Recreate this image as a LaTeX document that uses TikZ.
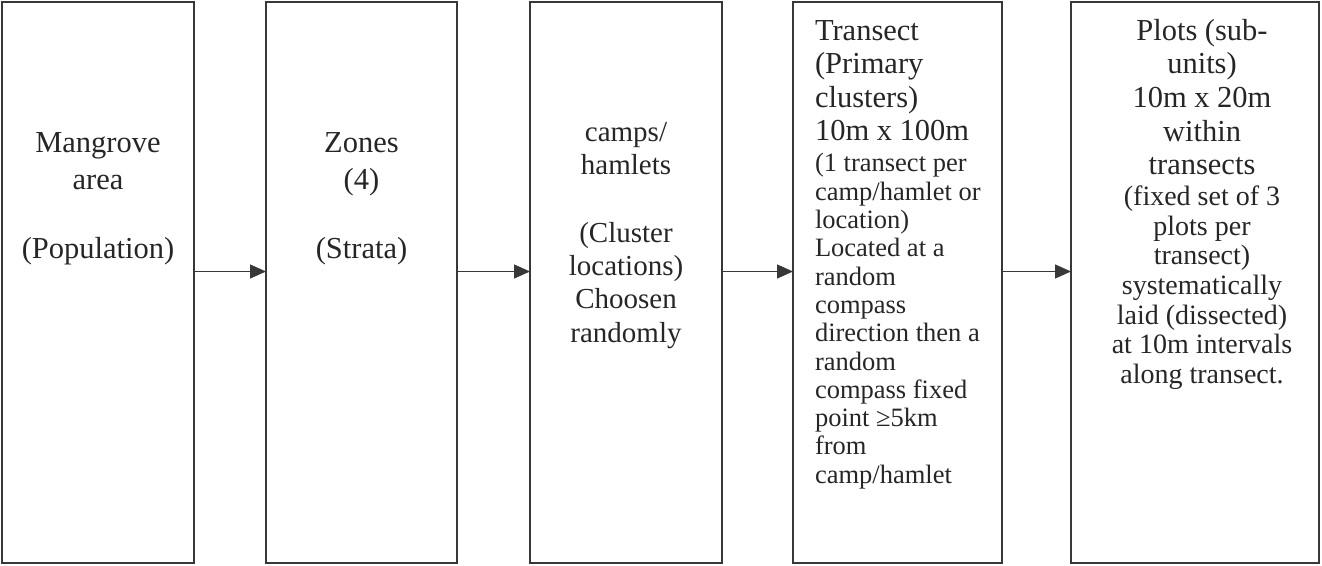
\documentclass[tikz,border=0pt]{standalone}
\usepackage{fontspec}
\setmainfont{Liberation Serif}
\usetikzlibrary{arrows.meta}
\usetikzlibrary{positioning}
\definecolor{boxgray}{HTML}{383838}
\definecolor{textgray}{HTML}{262626}
\newcommand{\bigtext}{\fontsize{30.5}{37}\selectfont}
\newcommand{\midtext}{\fontsize{29}{33.3}\selectfont}
\newcommand{\smalltext}{\fontsize{26.5}{28.3}\selectfont}
\newcommand{\drawStage}[3]{
   	\node[stagebox, minimum width=#3pt] (#1) at (#2,282.5) {};
}

\begin{document}
\begin{tikzpicture}[x=1pt, y=-1pt,
    stagebox/.style={draw=boxgray, line width=1.3pt, minimum height=561pt, inner sep=0pt, outer sep=0pt},
    flow/.style={draw=boxgray, line width=1.3pt, -{Triangle[length=16pt,width=14pt]}},
    stagetext/.style={text=textgray, inner sep=0pt, outer sep=0pt}]
%%%%%%%%%%%%%%%%%%
\useasboundingbox (0,0) rectangle (1322,565);

%Boxes
\drawStage{b1}{98}{192}
\drawStage{b2}{361.5}{191}
\drawStage{b3}{626}{192}
\drawStage{b4}{897.5}{209}
\drawStage{b5}{1195}{248}

%Arrows between boxes
\foreach \a/\b in {b1/b2, b2/b3, b3/b4, b4/b5}
{
	\draw[flow] ([yshift=11pt]\a.east) -- ([yshift=11pt]\b.west);
}

% Texts
\node[stagetext, anchor=north, align=center, font=\bigtext] (t1) at (98,133)
    {Mangrove\\area\\[32pt](Population)};
\node[stagetext, anchor=north, align=center, font=\bigtext] (t2) at (361.5,133)
    {Zones\\(4)\\[32pt](Strata)};
\node[stagetext, anchor=north, align=center, font=\midtext] (t3) at (626,122)
    {camps/\\hamlets\\[34.5pt](Cluster\\locations)\\Choosen\\randomly};

\node[stagetext, anchor=north west, align=left, font=\fontsize{30.5}{33.5}\selectfont] (t4a) at (815,20.5)
    {Transect\\(Primary\\clusters)\\10m x 100m};
\node[stagetext, anchor=north west, align=left, font=\smalltext] (t4b) at (815,153.6)
    {(1 transect per\\camp/hamlet or\\location)\\Located at a\\random\\compass\\direction then a\\random\\compass fixed\\point ≥5km\\from\\camp/hamlet};

\node[stagetext, anchor=north, align=center, font=\fontsize{30.5}{33.7}\selectfont] (t5a) at (1202,19)
    {Plots (sub-\\units)\\10m x 20m\\within\\transects};
\node[stagetext, anchor=north, align=center, font=\fontsize{28}{29.7}\selectfont] (t5b) at (1202,185.6)
    {(fixed set of 3\\plots per\\transect)\\systematically\\laid (dissected)\\at 10m intervals\\along transect.};
\end{tikzpicture}
\end{document}
